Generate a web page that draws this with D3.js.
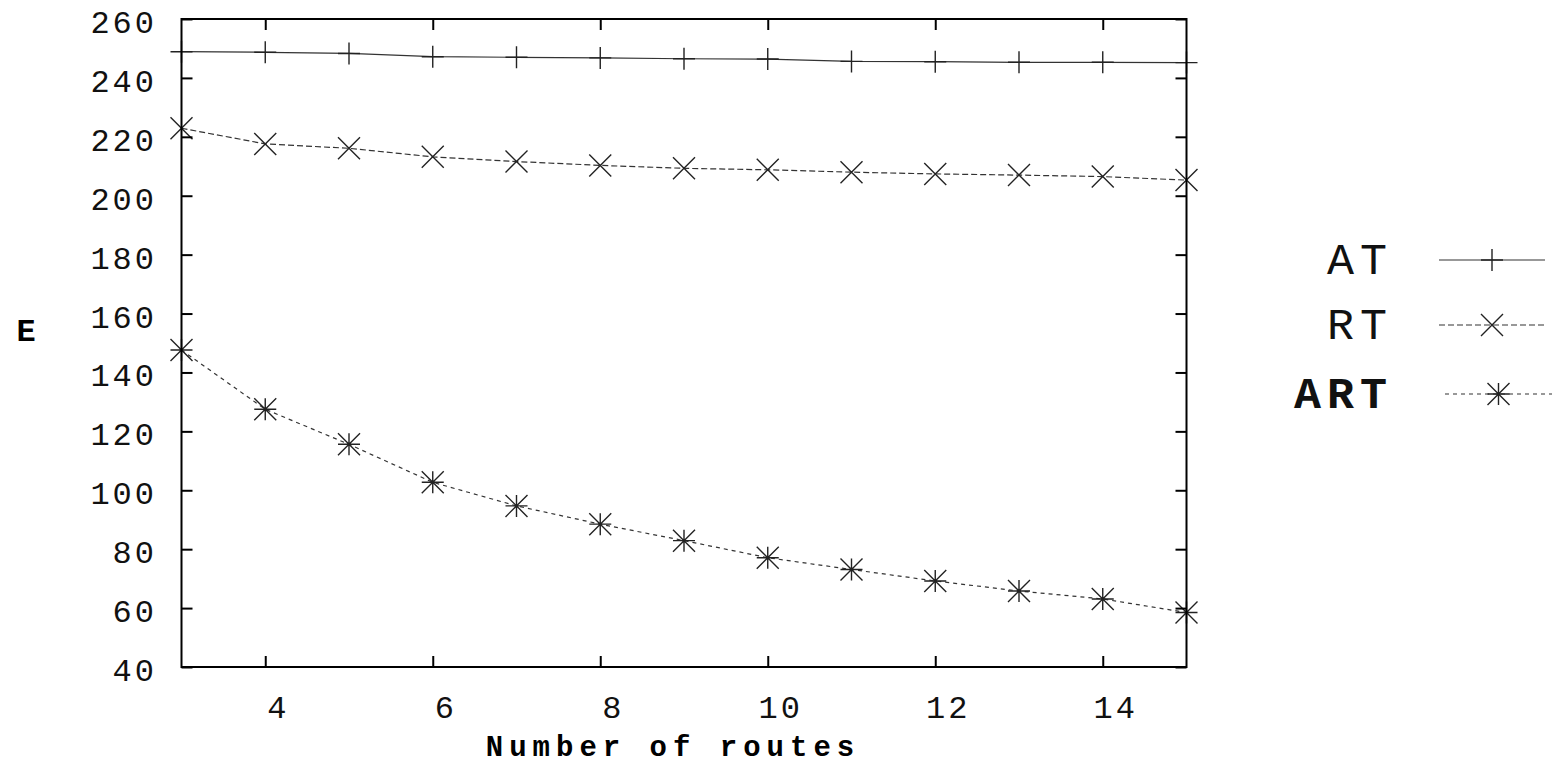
<!DOCTYPE html>
<html><head><meta charset="utf-8">
<script src="https://cdn.jsdelivr.net/npm/d3@7"></script>
<style>body{margin:0;background:#fff}svg{display:block}text{font-family:"Liberation Mono","Courier New",monospace;fill:#000}</style>
</head><body><svg id="c" width="1558" height="765"></svg>
<script>
const routes = [3,4,5,6,7,8,9,10,11,12,13,14,15];
const AT  = [248.9,248.7,248.3,247.2,247.0,246.8,246.5,246.4,245.6,245.5,245.3,245.3,245.2];
const RT  = [222.9,217.6,216.1,213.2,211.6,210.3,209.3,208.8,208.0,207.4,207.0,206.5,205.3];
const ART = [147.6,127.5,115.6,102.7,94.7,88.5,82.9,77.1,73.1,69.2,65.8,63.1,58.5];
const xTicks = [4,6,8,10,12,14];
const yTicks = [40,60,80,100,120,140,160,180,200,220,240,260];
const seriesNames = ["AT","RT","ART"];

const svg = d3.select("#c");
const L=181.5,R=1186.5,T=19,B=667;
const x = d3.scaleLinear().domain([3,15]).range([L,R]);
const y = d3.scaleLinear().domain([40,260]).range([B,T]);

const styles = {
  AT:{dash:null, marker:"plus"},
  RT:{dash:"6,3", marker:"cross"},
  ART:{dash:"4,4", marker:"star"}
};
const data = {AT, RT, ART};

function marker(g, type, cx, cy, s){
  const p = d3.path();
  if(type==="plus"||type==="star"){p.moveTo(cx-s,cy);p.lineTo(cx+s,cy);p.moveTo(cx,cy-s);p.lineTo(cx,cy+s);}
  if(type==="cross"||type==="star"){p.moveTo(cx-s,cy-s);p.lineTo(cx+s,cy+s);p.moveTo(cx-s,cy+s);p.lineTo(cx+s,cy-s);}
  g.append("path").attr("d",p.toString()).attr("stroke","#222").attr("stroke-width",1.4).attr("fill","none");
}

// series
seriesNames.forEach(n=>{
  const vals = data[n];
  const line = d3.line().x((d,i)=>x(routes[i])).y(d=>y(d));
  svg.append("path").datum(vals).attr("d",line).attr("fill","none")
    .attr("stroke","#333").attr("stroke-width",1.2)
    .attr("stroke-dasharray",styles[n].dash);
  const g = svg.append("g");
  vals.forEach((v,i)=>marker(g,styles[n].marker,x(routes[i]),y(v),11));
});

// frame
svg.append("rect").attr("x",L).attr("y",T).attr("width",R-L).attr("height",B-T)
  .attr("fill","none").attr("stroke","#000").attr("stroke-width",2);

// axes
const xb = svg.append("g").attr("transform",`translate(0,${B})`)
  .call(d3.axisBottom(x).tickValues(xTicks).tickSize(-11).tickPadding(0).tickFormat(d3.format("d")));
const xt = svg.append("g").attr("transform",`translate(0,${T})`)
  .call(d3.axisTop(x).tickValues(xTicks).tickSize(-11).tickFormat(""));
const yl = svg.append("g").attr("transform",`translate(${L},0)`)
  .call(d3.axisLeft(y).tickValues(yTicks).tickSize(-11).tickPadding(0).tickFormat(d3.format("d")));
const yr = svg.append("g").attr("transform",`translate(${R},0)`)
  .call(d3.axisRight(y).tickValues(yTicks).tickSize(-11).tickFormat(""));
[xb,xt,yl,yr].forEach(g=>{g.select(".domain").remove();g.selectAll(".tick line").attr("stroke","#000").attr("stroke-width",2);});
xb.selectAll(".tick text").attr("x",12.5).attr("y",51).attr("dy",0).attr("font-family",null)
  .style("font-size","32px").style("letter-spacing","3px").style("fill","#111");
yl.selectAll(".tick text").attr("x",-24.5).attr("y",2).attr("dy","0.36em").attr("font-family",null)
  .style("font-size","32px").style("letter-spacing","3px").style("fill","#111");

// axis labels
svg.append("text").attr("x",673).attr("y",756).attr("text-anchor","middle")
  .style("font-size","29px").style("font-weight","bold").style("letter-spacing","6px").text("Number of routes");
svg.append("text").attr("x",26).attr("y",341).attr("text-anchor","middle")
  .style("font-size","32px").style("font-weight","bold").text("E");

// legend
const legY = {AT:260, RT:325, ART:394};
seriesNames.forEach(n=>{
  const ly = legY[n];
  svg.append("text").attr("x",1393).attr("y",ly+14).attr("text-anchor","end")
    .style("font-size","45px").style("letter-spacing","6px")
    .style("font-weight",n==="ART"?"bold":"normal").style("fill","#111").text(n);
  const x0 = n==="ART"?1445:1439, x1 = n==="ART"?1552:1545;
  svg.append("line").attr("x1",x0).attr("x2",x1).attr("y1",ly).attr("y2",ly)
    .attr("stroke","#333").attr("stroke-width",1.2).attr("stroke-dasharray",styles[n].dash);
  marker(svg,styles[n].marker,(x0+x1)/2,ly,11);
});
</script></body></html>
